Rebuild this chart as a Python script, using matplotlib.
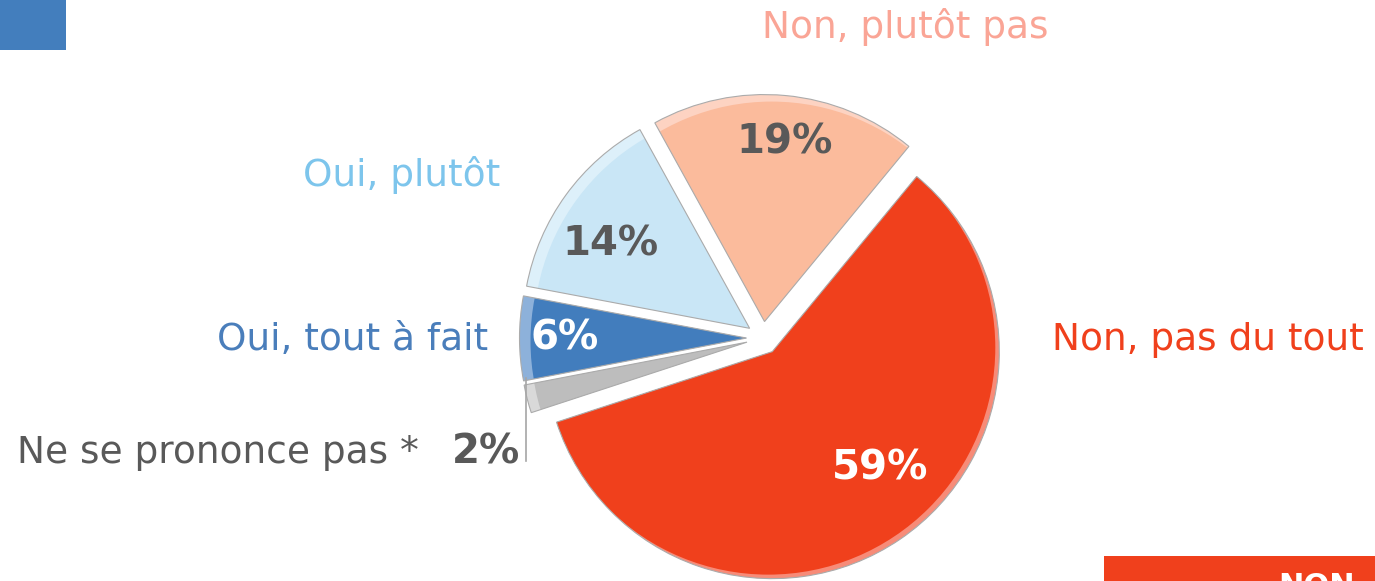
import matplotlib
matplotlib.use('Agg')
import matplotlib.pyplot as plt
from matplotlib.patches import Circle, Wedge, Rectangle

# ---- data ----
categories = ['Non, pas du tout', 'Ne se prononce pas *', 'Oui, tout à fait', 'Oui, plutôt', 'Non, plutôt pas']
values = [59, 2, 6, 14, 19]
pct_labels = ['59%', '2%', '6%', '14%', '19%']

# ---- styles ----
main_colors = ['#F0401C', '#BDBDBD', '#427DBD', '#C9E6F6', '#FBBB9C']
rim_colors = ['#F78B78', '#D9D9D9', '#8DB1DA', '#DDF0FA', '#FDD3C2']
label_colors = ['#F0401C', '#595959', '#4A7EBB', '#7DC5EC', '#FAA596']
pct_colors = ['white', '#595959', 'white', '#595959', '#595959']

W, H = 1375, 581
fig = plt.figure(figsize=(W / 100, H / 100), dpi=100)
ax = fig.add_axes([0, 0, 1, 1])


def Y(py):
    return H - py


cx, cy = 763, Y(338)
R = 227
wedges, _ = ax.pie(values, colors=rim_colors, startangle=50.5, counterclock=False,
                   explode=[16.5] * len(values), radius=R, center=(cx, cy),
                   wedgeprops=dict(linewidth=0), frame=True)

shifts = [(-4, 4), (7, -3), (7, -3), (7, -3), (7, -3)]
rims = [0, 4, 4, 4, 4]
for wd, col, s, w in zip(wedges, main_colors, shifts, rims):
    x0, y0 = wd.center
    c = Circle((x0 + s[0], y0 + s[1]), wd.r - w, facecolor=col, linewidth=0)
    ax.add_patch(c)
    c.set_clip_path(wd)
    ax.add_patch(Wedge(wd.center, wd.r, wd.theta1, wd.theta2, fill=False,
                       edgecolor='#ABABAB', linewidth=0.8))

# ---- category labels ----
fs = 27
label_pos = [(1052, 350, 'left'), (17, 463, 'left'), (488, 350, 'right'),
             (500, 186, 'right'), (905, 38, 'center')]
for name, col, (x, y, ha) in zip(categories, label_colors, label_pos):
    ax.text(x, Y(y), name, ha=ha, va='baseline', fontsize=fs, color=col,
            family='DejaVu Sans')

# ---- percentage labels ----
pct_pos = [(880, 479), (486, 463), (565, 349), (611, 255), (785, 154)]
for lab, col, (x, y) in zip(pct_labels, pct_colors, pct_pos):
    ax.text(x, Y(y), lab, ha='center', va='baseline', fontsize=29,
            fontweight='bold', color=col, family='DejaVu Sans')

# leader line for the small slice
ax.plot([526, 526], [Y(378), Y(461)], color='#A6A6A6', lw=1.2)

# decorative blocks
ax.add_patch(Rectangle((0, Y(50)), 66, 50, facecolor='#437EBD', linewidth=0))
ax.add_patch(Rectangle((1104, 0), W - 1104, Y(556), facecolor='#F0401C', linewidth=0))
ax.text(1278, Y(572), 'NON', ha='left', va='top', fontsize=22, fontweight='bold',
        color='white', family='DejaVu Sans', clip_on=True)

ax.set_xlim(0, W)
ax.set_ylim(0, H)
ax.axis('off')
fig.savefig('out.png', dpi=100)
